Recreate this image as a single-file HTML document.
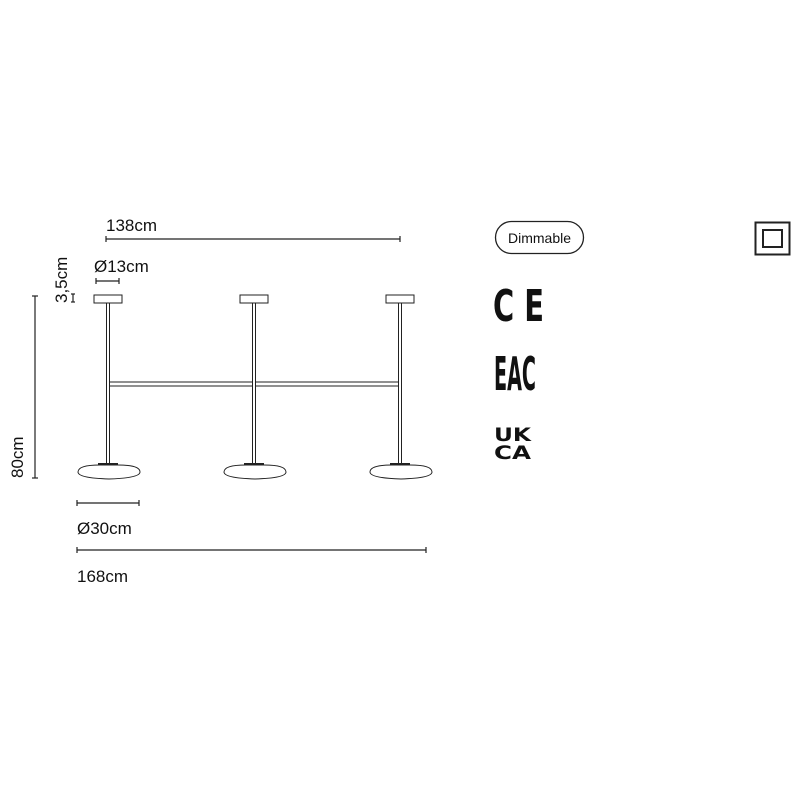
<!DOCTYPE html>
<html><head><style>
html,body{margin:0;padding:0;background:#fff;}
svg{display:block;}
text{font-family:"Liberation Sans",sans-serif;fill:#111;}
</style></head><body>
<svg width="800" height="800" viewBox="0 0 800 800" xmlns="http://www.w3.org/2000/svg">
<g stroke="#222" fill="none" stroke-width="1.2">
<line x1="106" y1="239" x2="400" y2="239"/>
<line x1="106" y1="236" x2="106" y2="242"/><line x1="400" y1="236" x2="400" y2="242"/>
<line x1="96" y1="281" x2="119" y2="281"/>
<line x1="96" y1="278" x2="96" y2="284"/><line x1="119" y1="278" x2="119" y2="284"/>
<line x1="73" y1="294" x2="73" y2="302"/><line x1="71" y1="294" x2="75" y2="294"/><line x1="71" y1="302" x2="75" y2="302"/>
<line x1="35" y1="296" x2="35" y2="478"/><line x1="32" y1="296" x2="38" y2="296"/><line x1="32" y1="478" x2="38" y2="478"/>
<line x1="77" y1="503" x2="139" y2="503"/><line x1="77" y1="500" x2="77" y2="506"/><line x1="139" y1="500" x2="139" y2="506"/>
<line x1="77" y1="550" x2="426" y2="550"/><line x1="77" y1="547" x2="77" y2="553"/><line x1="426" y1="547" x2="426" y2="553"/>
</g>
<g stroke="#222" fill="#fff" stroke-width="1">
<rect x="94" y="295" width="28" height="8"/>
<rect x="240" y="295" width="28" height="8"/>
<rect x="386" y="295" width="28" height="8"/>
<rect x="106.5" y="303" width="3" height="162"/>
<rect x="252.5" y="303" width="3" height="162"/>
<rect x="398.5" y="303" width="3" height="162"/>
<rect x="109.5" y="382" width="143" height="4"/>
<rect x="255.5" y="382" width="143" height="4"/>
<path d="M78 472 Q78 465 100 465 L118 465 Q140 465 140 472 Q140 478 109 479 Q78 478 78 472Z"/>
<path d="M224 472 Q224 465 246 465 L264 465 Q286 465 286 472 Q286 478 255 479 Q224 478 224 472Z"/>
<path d="M370 472 Q370 465 392 465 L410 465 Q432 465 432 472 Q432 478 401 479 Q370 478 370 472Z"/>
</g>
<g fill="#222"><rect x="98" y="463" width="20" height="2"/><rect x="244" y="463" width="20" height="2"/><rect x="390" y="463" width="20" height="2"/></g>
<text x="106" y="231" font-size="17">138cm</text>
<text x="94" y="272" font-size="17">Ø13cm</text>
<text x="77" y="534" font-size="17">Ø30cm</text>
<text x="77" y="582" font-size="17">168cm</text>
<text transform="translate(67,303) rotate(-90)" font-size="17">3,5cm</text>
<text transform="translate(23,478) rotate(-90)" font-size="17">80cm</text>
<rect x="495.5" y="221.5" width="88" height="32" rx="16" fill="none" stroke="#222" stroke-width="1.3"/>
<text x="539.5" y="243" font-size="14" text-anchor="middle">Dimmable</text>
<rect x="755.5" y="222.5" width="34" height="32" fill="none" stroke="#222" stroke-width="2"/>
<rect x="763" y="230" width="19" height="17" fill="none" stroke="#222" stroke-width="2"/>
<text x="493" y="321" font-size="44" font-weight="bold" textLength="51" lengthAdjust="spacingAndGlyphs" style="font-family:'DejaVu Sans',sans-serif;font-weight:bold">C E</text>
<text x="494" y="390" font-size="46" font-weight="bold" textLength="42" lengthAdjust="spacingAndGlyphs" style="font-family:'DejaVu Sans Condensed','DejaVu Sans',sans-serif;font-weight:bold">EAC</text>
<text x="494" y="441" font-size="19" font-weight="bold" textLength="37" lengthAdjust="spacingAndGlyphs" style="font-family:'DejaVu Sans',sans-serif;font-weight:bold">UK</text>
<text x="494" y="459" font-size="19" font-weight="bold" textLength="37" lengthAdjust="spacingAndGlyphs" style="font-family:'DejaVu Sans',sans-serif;font-weight:bold">CA</text>
</svg>
</body></html>
